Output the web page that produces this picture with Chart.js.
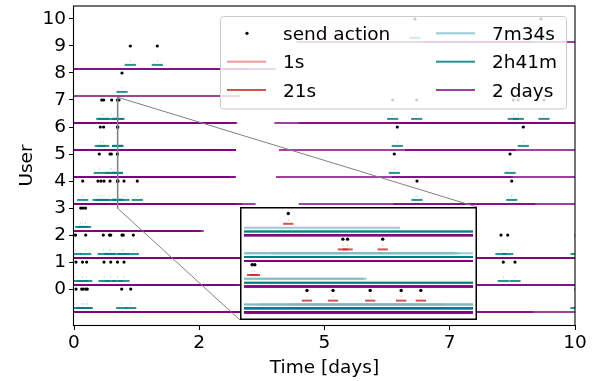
<!DOCTYPE html>
<html>
<head>
<meta charset="utf-8">
<script src="https://cdn.jsdelivr.net/npm/chart.js@4.4.1/dist/chart.umd.min.js"></script>
<style>
  html, body { margin: 0; padding: 0; background: #fff; }
  #wrap { position: relative; width: 597px; height: 381px; }
  #inset { position: absolute; background: #fff; }
</style>
</head>
<body>
<div id="wrap">
  <canvas id="mainChart" width="597" height="381"></canvas>
  <div id="inset"><canvas id="insetChart"></canvas></div>
</div>
<script>
// ---- data ----
const users = [0, 1, 2, 3, 4, 5, 6, 7, 8, 9, 10];
const userTicks = [0, 1, 2, 3, 4, 5, 6, 7, 8, 9, 10];
const xTickValues = [0, 2.5, 5, 7.5, 10];
const xTickLabels = ["0", "2", "5", "7", "10"];

// send actions per user, in days
const sendTimes = [
  [0.040, 0.154, 0.186, 0.240, 0.265, 0.952, 1.132, 5.0, 6.8, 10.02],
  [0.040, 0.170, 0.253, 0.599, 0.733, 0.868, 0.998, 5.2, 8.569, 8.802],
  [0.030, 0.234, 0.585, 0.709, 0.733, 0.958, 0.984, 1.184, 5.0, 8.523, 8.657, 10.02],
  [0.134, 0.180, 0.230],
  [0.174, 0.479, 0.539, 0.599, 0.719, 0.868963, 0.870190, 0.871938, 0.873396, 0.874322, 0.998, 1.263, 6.846, 8.737],
  [0.505, 0.719, 0.745, 0.866382, 0.866509, 6.393, 8.703],
  [0.525, 0.591, 0.870653, 0.870873, 0.872528, 6.453, 8.968],
  [0.553, 0.593, 0.752, 0.868083, 0.898, 6.361, 6.840, 8.768, 8.868, 9.381],
  [0.958],
  [1.124, 1.663],
  [6.806, 9.321]
];

// cluster scales: each action is drawn as [t - scale, t + scale]
const levelLabels = ["1s", "21s", "7m34s", "2h41m", "2 days"];
const levelSeconds = [1, 21, 454, 9661, 204000];

// zoomed window shown in the inset
const zoomStart = 0.866;     // days
const zoomSeconds = 931;
const zoomUsers = [3.0, 7.1];

// ---- styling ----
const levelColors = [
  "rgba(240,128,128,0.8)",
  "rgba(200,40,40,0.8)",
  "rgba(120,185,195,0.75)",
  "rgba(0,128,128,0.85)",
  "rgba(128,0,128,0.75)"
];
const levelDrop = [0.25, 0.4, 0.55, 0.7, 0.85];
const insetBox = { left: 240, top: 207, width: 237, height: 113 };
const zoomEnd = zoomStart + zoomSeconds / 86400;

Chart.defaults.font.family = "'DejaVu Sans', sans-serif";
Chart.defaults.font.size = 18.5;
Chart.defaults.color = "#000";

function buildDatasets(dotRadius) {
  const dots = [];
  sendTimes.forEach((times, u) => times.forEach((t) => dots.push({ x: t, y: users[u] })));
  const sets = [{
    type: "scatter",
    label: "send action",
    data: dots,
    pointRadius: dotRadius,
    pointBackgroundColor: "#000",
    pointBorderWidth: 0,
    clip: 0
  }];
  levelLabels.forEach((label, k) => {
    const half = levelSeconds[k] / 86400;
    const bars = [];
    sendTimes.forEach((times, u) =>
      times.forEach((t) => bars.push({ x: [t - half, t + half], y: users[u] - levelDrop[k] }))
    );
    sets.push({
      type: "bar",
      label: label,
      data: bars,
      indexAxis: "y",
      grouped: false,
      barThickness: 2,
      inflateAmount: 0,
      backgroundColor: levelColors[k],
      borderWidth: 0,
      clip: 0
    });
  });
  return sets;
}

const frameAndLegend = {
  id: "frameAndLegend",
  afterDatasetsDraw(chart) {
    const ctx = chart.ctx;
    const x = chart.scales.x, y = chart.scales.y;
    const x1 = x.getPixelForValue(zoomStart), x2 = x.getPixelForValue(zoomEnd);
    const y1 = y.getPixelForValue(zoomUsers[1]), y2 = y.getPixelForValue(zoomUsers[0]);
    ctx.save();
    ctx.strokeStyle = "#808080";
    ctx.lineWidth = 1;
    ctx.strokeRect(x1, y1, x2 - x1, y2 - y1);
    ctx.beginPath();
    ctx.moveTo(x2, y1);
    ctx.lineTo(insetBox.left + insetBox.width, insetBox.top);
    ctx.moveTo(x1, y2);
    ctx.lineTo(insetBox.left, insetBox.top + insetBox.height);
    ctx.stroke();
    ctx.restore();
  },
  afterDraw(chart) {
    const ctx = chart.ctx;
    const a = chart.chartArea;
    ctx.save();
    ctx.strokeStyle = "#000";
    ctx.lineWidth = 1.1;
    ctx.strokeRect(a.left - 0.5, a.top, a.right - a.left + 0.5, a.bottom - a.top + 0.5);

    // two column legend
    const bx = 220.5, by = 16.5, bw = 346, bh = 92.5, r = 3;
    ctx.beginPath();
    ctx.moveTo(bx + r, by);
    ctx.arcTo(bx + bw, by, bx + bw, by + bh, r);
    ctx.arcTo(bx + bw, by + bh, bx, by + bh, r);
    ctx.arcTo(bx, by + bh, bx, by, r);
    ctx.arcTo(bx, by, bx + bw, by, r);
    ctx.closePath();
    ctx.fillStyle = "rgba(255,255,255,0.8)";
    ctx.fill();
    ctx.strokeStyle = "#cccccc";
    ctx.lineWidth = 1;
    ctx.stroke();

    const items = [
      { label: "send action", color: null, col: 0, row: 0 },
      { label: levelLabels[0], color: levelColors[0], col: 0, row: 1 },
      { label: levelLabels[1], color: levelColors[1], col: 0, row: 2 },
      { label: levelLabels[2], color: levelColors[2], col: 1, row: 0 },
      { label: levelLabels[3], color: levelColors[3], col: 1, row: 1 },
      { label: levelLabels[4], color: levelColors[4], col: 1, row: 2 }
    ];
    const colX = [227, 436];
    const rowY = [33.3, 61.7, 90];
    ctx.font = "18.5px 'DejaVu Sans', sans-serif";
    ctx.textBaseline = "alphabetic";
    ctx.textAlign = "left";
    items.forEach((it) => {
      const hx = colX[it.col], hy = rowY[it.row];
      if (it.color) {
        ctx.fillStyle = it.color;
        ctx.fillRect(hx, hy - 1, 39, 2);
      } else {
        ctx.fillStyle = "#000";
        ctx.beginPath();
        ctx.arc(hx + 20, hy, 1.6, 0, Math.PI * 2);
        ctx.fill();
      }
      ctx.fillStyle = "#000";
      ctx.fillText(it.label, hx + 56, hy + 6.7);
    });
    ctx.restore();
  }
};

new Chart(document.getElementById("mainChart"), {
  type: "scatter",
  data: { datasets: buildDatasets(1.6) },
  options: {
    responsive: false,
    animation: false,
    events: [],
    devicePixelRatio: 1,
    layout: { padding: { left: 0, right: 22, top: 6, bottom: 0 } },
    plugins: { legend: { display: false }, tooltip: { enabled: false } },
    scales: {
      x: {
        type: "linear",
        min: 0,
        max: 10,
        offset: false,
        stacked: false,
        afterBuildTicks: (s) => { s.ticks = xTickValues.map((v) => ({ value: v })); },
        afterFit: (s) => { s.height = 56; s.paddingLeft = 0; s.paddingRight = 0; },
        ticks: { padding: 2, maxRotation: 0, autoSkip: false, callback: (v, i) => xTickLabels[i] },
        grid: { offset: false, drawOnChartArea: false, drawTicks: true, tickLength: 5, tickColor: "#000", tickWidth: 1 },
        border: { display: false },
        title: { display: true, text: "Time [days]", padding: { top: 0, bottom: 2 } }
      },
      y: {
        type: "linear",
        min: -1.33,
        max: 10.48,
        offset: false,
        afterBuildTicks: (s) => { s.ticks = userTicks.map((v) => ({ value: v })); },
        afterFit: (s) => { s.width = 74; s.paddingTop = 0; s.paddingBottom = 0; },
        ticks: { padding: 3, autoSkip: false, callback: (v) => String(v) },
        grid: { offset: false, drawOnChartArea: false, drawTicks: true, tickLength: 5, tickColor: "#000", tickWidth: 1 },
        border: { display: false },
        title: { display: true, text: "User", padding: { top: 16, bottom: 0 } }
      }
    }
  },
  plugins: [frameAndLegend]
});

// inset
const insetDiv = document.getElementById("inset");
insetDiv.style.left = insetBox.left + "px";
insetDiv.style.top = insetBox.top + "px";
insetDiv.style.width = insetBox.width + "px";
insetDiv.style.height = insetBox.height + "px";
const insetCanvas = document.getElementById("insetChart");
insetCanvas.width = insetBox.width;
insetCanvas.height = insetBox.height;

const insetFrame = {
  id: "insetFrame",
  afterDraw(chart) {
    const ctx = chart.ctx;
    ctx.save();
    ctx.strokeStyle = "#000";
    ctx.lineWidth = 1.5;
    ctx.strokeRect(0.75, 0.75, chart.width - 1.5, chart.height - 1.5);
    ctx.restore();
  }
};

new Chart(insetCanvas, {
  type: "scatter",
  data: { datasets: buildDatasets(1.7) },
  options: {
    responsive: false,
    animation: false,
    events: [],
    devicePixelRatio: 1,
    layout: { padding: 0 },
    plugins: { legend: { display: false }, tooltip: { enabled: false } },
    scales: {
      x: { type: "linear", display: false, min: zoomStart, max: zoomEnd, offset: false, stacked: false },
      y: { type: "linear", display: false, min: zoomUsers[0], max: zoomUsers[1], offset: false }
    }
  },
  plugins: [insetFrame]
});
</script>
</body>
</html>
